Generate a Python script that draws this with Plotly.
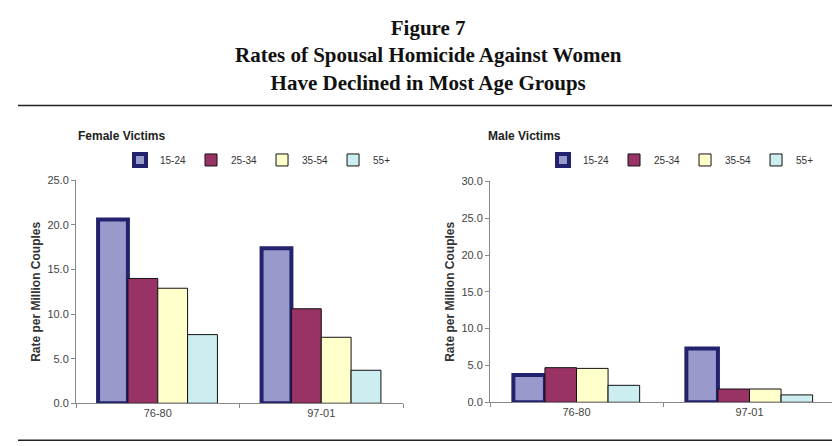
import plotly.graph_objects as go

periods = ["76-80", "97-01"]
age_groups = ["15-24", "25-34", "35-54", "55+"]
female = {"15-24": [20.6, 17.4], "25-34": [14.0, 10.6], "35-54": [12.9, 7.4], "55+": [7.7, 3.7]}
male = {"15-24": [3.7, 7.3], "25-34": [4.7, 1.8], "35-54": [4.6, 1.8], "55+": [2.3, 1.0]}
colors = {"15-24": "#9999cc", "25-34": "#993366", "35-54": "#ffffcc", "55+": "#cceef0"}

fig = go.Figure()
for xa, ya, lg, data in [("x", "y", "legend", female), ("x2", "y2", "legend2", male)]:
    for g in age_groups:
        thick = g == "15-24"
        fig.add_trace(go.Bar(
            x=periods, y=data[g], name=g, xaxis=xa, yaxis=ya, legend=lg,
            marker=dict(color=colors[g],
                        line=dict(color="#22226e" if thick else "#111111", width=4 if thick else 1)),
        ))

def Y(px):
    return 1 - px / 446

F = "Liberation Sans, Arial, sans-serif"
axis_common = dict(showline=True, linecolor="#888", linewidth=1, showgrid=False,
                   tickfont=dict(family=F, size=11, color="#444"))
ytitle = dict(text="<b>Rate per Million Couples</b>", font=dict(family=F, size=12, color="#333"), standoff=4)
fig.update_layout(
    width=840, height=446, margin=dict(l=0, r=0, t=0, b=0),
    paper_bgcolor="white", plot_bgcolor="white",
    barmode="group", bargap=0.27, bargroupgap=0,
    showlegend=True,
    xaxis=dict(type="category", domain=[68/840, 395/840], anchor="y", ticks="outside", tickson="boundaries",
               ticklen=4, tickcolor="#888", **axis_common),
    yaxis=dict(domain=[Y(400), Y(171)], anchor="x", range=[0, 25], dtick=5,
               tickformat=".1f", ticks="outside", ticklen=4, tickcolor="#888", title=ytitle, **axis_common),
    xaxis2=dict(type="category", domain=[482/840, 828/840], anchor="y2", ticks="outside", tickson="boundaries",
                ticklen=4, tickcolor="#888", **axis_common),
    yaxis2=dict(domain=[Y(399), Y(172)], anchor="x2", range=[0, 30], dtick=5,
                tickformat=".1f", ticks="outside", ticklen=4, tickcolor="#888", title=ytitle, **axis_common),
    legend=dict(orientation="h", x=112/840, y=Y(150), xanchor="left", yanchor="middle",
                font=dict(family=F, size=10, color="#333"), itemwidth=30, traceorder="normal"),
    legend2=dict(orientation="h", x=535/840, y=Y(150), xanchor="left", yanchor="middle",
                 font=dict(family=F, size=10, color="#333"), itemwidth=30, traceorder="normal"),
    annotations=[
        dict(text="<b>Figure 7<br>Rates of Spousal Homicide Against Women<br>Have Declined in Most Age Groups</b>",
             x=0.5, y=1, xref="paper", yref="paper", xanchor="center", yanchor="top",
             showarrow=False, font=dict(family="Liberation Serif, Times New Roman, serif", size=21, color="#111")),
        dict(text="<b>Female Victims</b>", x=68/840, y=Y(125), xref="paper", yref="paper",
             xanchor="left", yanchor="middle", showarrow=False, font=dict(family=F, size=12, color="#222")),
        dict(text="<b>Male Victims</b>", x=478/840, y=Y(125), xref="paper", yref="paper",
             xanchor="left", yanchor="middle", showarrow=False, font=dict(family=F, size=12, color="#222")),
    ],
    shapes=[
        dict(type="line", xref="paper", yref="paper", x0=10/840, x1=832/840, y0=Y(94), y1=Y(94),
             line=dict(color="#222", width=1.5)),
        dict(type="line", xref="paper", yref="paper", x0=10/840, x1=832/840, y0=Y(438), y1=Y(438),
             line=dict(color="#222", width=1.5)),
    ],
)
fig.write_html("out.html")
